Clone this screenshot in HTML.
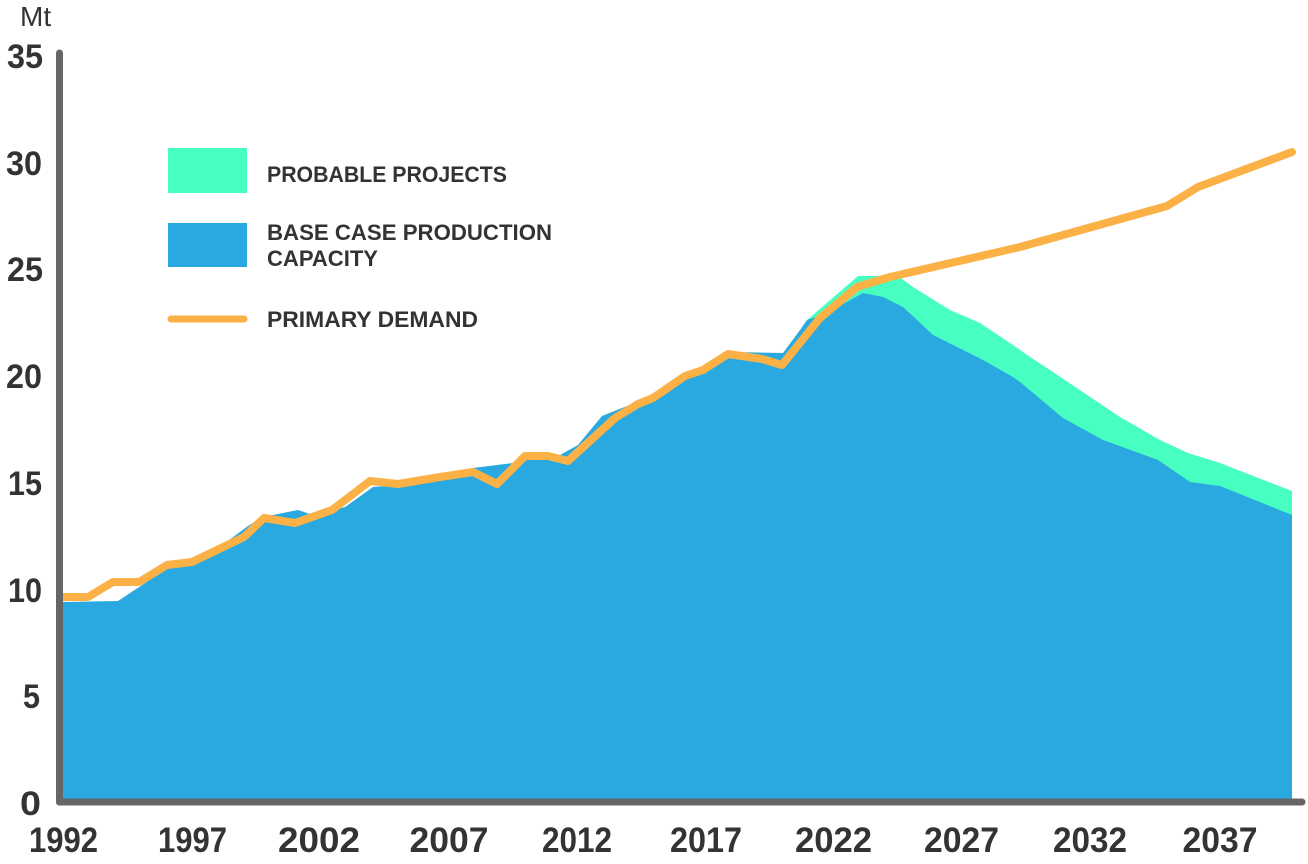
<!DOCTYPE html>
<html>
<head>
<meta charset="utf-8">
<style>
  html, body { margin: 0; padding: 0; background: #ffffff; }
  svg { display: block; }
  text { font-family: "Liberation Sans", Arial, sans-serif; fill: #333333; }
  .b { font-weight: bold; }
</style>
</head>
<body>
<svg width="1308" height="864" viewBox="0 0 1308 864" xmlns="http://www.w3.org/2000/svg">
  <rect x="0" y="0" width="1308" height="864" fill="#ffffff"/>

  <!-- Probable projects (green) -->
  <polygon fill="#47FFC1" points="
    807,320 858,276 898,276 913,287 950,310 980,323 1013,345 1030,357 1047,368 1120,417 1160,440 1188,453 1220,463 1292,491
    1292,800 807,800"/>

  <!-- Base case production capacity (blue) -->
  <polygon fill="#29A9E0" points="
    63,800 63,602 118,601 168,568 192,563 217,549 248,526 263,517 298,510 313,515 345,507 373,487 398,485 455,478
    473,468 513,463 548,455 560,455 578,445 602,416 622,408 653,396 685,373 703,367 728,352 783,353 800,330
    807,320 823,315 863,293 883,297 903,307 917,320 933,335 957,347 983,360 1013,377 1020,382 1063,418 1103,440
    1158,460 1190,482 1220,486 1292,515 1292,800"/>

  <!-- Primary demand line -->
  <polyline fill="none" stroke="#FBB146" stroke-width="8" stroke-linejoin="round" stroke-linecap="round" points="
    63,597 88,597 113,582 139,582 167,565 192,562 217,550 244,537 264,518 295,523 332,510 370,481 398,484
    440,477 473,472 497,484 525,456 548,456 568,461 615,418 638,404 653,398 685,376 703,370 728,354 762,359
    782,365 820,318 857,287 890,277 1020,247 1167,206 1198,187 1292,152"/>

  <!-- Axes -->
  <line x1="59.5" y1="53" x2="59.5" y2="802" stroke="#666666" stroke-width="7" stroke-linecap="round"/>
  <line x1="59.5" y1="802" x2="1302" y2="802" stroke="#666666" stroke-width="7" stroke-linecap="round"/>

  <!-- Unit -->
  <text x="20" y="26" font-size="28">Mt</text>

  <!-- Y labels -->
  <g class="b" font-size="34" text-anchor="end">
    <text x="43" y="68" textLength="36" lengthAdjust="spacingAndGlyphs">35</text>
    <text x="42" y="175" textLength="36" lengthAdjust="spacingAndGlyphs">30</text>
    <text x="43" y="281" textLength="36" lengthAdjust="spacingAndGlyphs">25</text>
    <text x="42" y="388" textLength="36" lengthAdjust="spacingAndGlyphs">20</text>
    <text x="42" y="495" textLength="34" lengthAdjust="spacingAndGlyphs">15</text>
    <text x="42" y="602" textLength="34" lengthAdjust="spacingAndGlyphs">10</text>
    <text x="40" y="708" textLength="17" lengthAdjust="spacingAndGlyphs">5</text>
    <text x="41" y="815" textLength="21" lengthAdjust="spacingAndGlyphs">0</text>
  </g>

  <!-- X labels -->
  <g class="b" font-size="35" text-anchor="middle">
    <text x="63.5" y="852" textLength="69" lengthAdjust="spacingAndGlyphs">1992</text>
    <text x="192.5" y="852" textLength="69" lengthAdjust="spacingAndGlyphs">1997</text>
    <text x="319" y="852" textLength="82" lengthAdjust="spacingAndGlyphs">2002</text>
    <text x="449" y="852" textLength="79" lengthAdjust="spacingAndGlyphs">2007</text>
    <text x="577" y="852" textLength="70" lengthAdjust="spacingAndGlyphs">2012</text>
    <text x="706" y="852" textLength="72" lengthAdjust="spacingAndGlyphs">2017</text>
    <text x="833.5" y="852" textLength="77" lengthAdjust="spacingAndGlyphs">2022</text>
    <text x="961.5" y="852" textLength="75" lengthAdjust="spacingAndGlyphs">2027</text>
    <text x="1090" y="852" textLength="74" lengthAdjust="spacingAndGlyphs">2032</text>
    <text x="1220" y="852" textLength="75" lengthAdjust="spacingAndGlyphs">2037</text>
  </g>

  <!-- Legend -->
  <rect x="168" y="148" width="79" height="45" fill="#47FFC1"/>
  <rect x="168" y="223" width="79" height="44" fill="#29A9E0"/>
  <line x1="171" y1="319" x2="244" y2="319" stroke="#FBB146" stroke-width="7" stroke-linecap="round"/>

  <g class="b" font-size="22">
    <text x="267" y="182" textLength="240" lengthAdjust="spacingAndGlyphs">PROBABLE PROJECTS</text>
    <text x="267" y="240" textLength="285" lengthAdjust="spacingAndGlyphs">BASE CASE PRODUCTION</text>
    <text x="267" y="266" textLength="111" lengthAdjust="spacingAndGlyphs">CAPACITY</text>
    <text x="267" y="327" textLength="211" lengthAdjust="spacingAndGlyphs">PRIMARY DEMAND</text>
  </g>
</svg>
</body>
</html>
